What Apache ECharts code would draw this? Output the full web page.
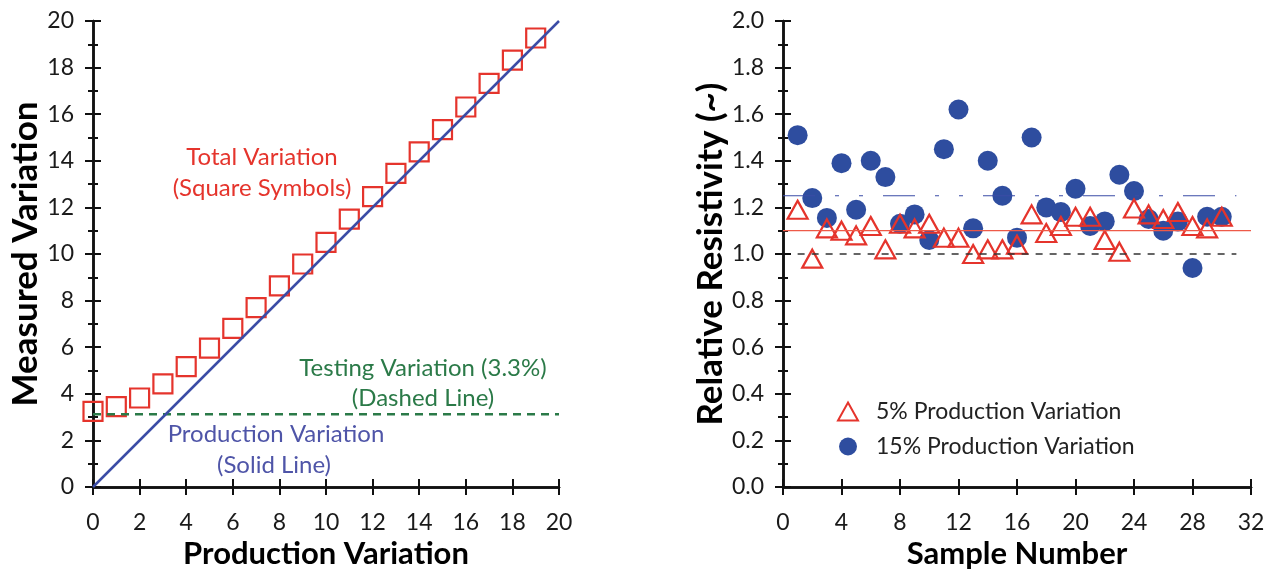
<!DOCTYPE html>
<html>
<head>
<meta charset="utf-8">
<script src="https://cdn.jsdelivr.net/npm/echarts@6/dist/echarts.min.js"></script>
<style>
html,body{margin:0;padding:0;background:#fff;}
#chart{width:1271px;height:577px;}
</style>
</head>
<body>
<div id="chart"></div>
<script>
// ---- Left panel data ----
const totalX = [0,1,2,3,4,5,6,7,8,9,10,11,12,13,14,15,16,17,18,19];
const totalY = [3.25,3.45,3.82,4.43,5.17,5.96,6.81,7.70,8.63,9.57,10.5,11.5,12.46,13.46,14.38,15.34,16.31,17.32,18.32,19.27];
const prodLineX = [0, 20];
const prodLineY = [0, 20];
const testLineX = [0, 20];
const testLineY = [3.12, 3.12];
const leftXTicks = [0,2,4,6,8,10,12,14,16,18,20];
const leftYTicks = [0,2,4,6,8,10,12,14,16,18,20];

// ---- Right panel data ----
const samples = [1,2,3,4,5,6,7,8,9,10,11,12,13,14,15,16,17,18,19,20,21,22,23,24,25,26,27,28,29,30];
const var5 = [1.19,0.98,1.11,1.10,1.08,1.12,1.02,1.13,1.11,1.13,1.07,1.07,1.00,1.02,1.02,1.04,1.17,1.09,1.12,1.16,1.16,1.06,1.01,1.195,1.17,1.15,1.18,1.12,1.11,1.16];
const var15 = [1.51,1.24,1.155,1.39,1.19,1.40,1.33,1.13,1.17,1.06,1.45,1.62,1.11,1.40,1.25,1.07,1.50,1.20,1.18,1.28,1.12,1.14,1.34,1.27,1.15,1.10,1.14,0.94,1.16,1.16];
const nominalX = [1, 31];
const nominalY = [1.0, 1.0];
const mean5X = [0, 32];
const mean5Y = [1.10, 1.10];
const mean15X = [0, 31];
const mean15Y = [1.25, 1.25];
const rightXTicks = [0,4,8,12,16,20,24,28,32];
const rightYTicks = ['0.0','0.2','0.4','0.6','0.8','1.0','1.2','1.4','1.6','1.8','2.0'];

const FONT = 'Lato';
const RED = '#e5342c';
const BLUE = '#2e4d9f';
const LINEBLUE = '#3b4ca6';
const GREEN = '#2b7a48';

const pairs = (xs, ys) => xs.map((x, i) => [x, ys[i]]);

const axisLineStyle = {show: true, lineStyle: {color: '#111', width: 2.5}};
const tickStyle = {show: true, inside: false, length: 8, lineStyle: {color: '#111', width: 2}};
const minorStyle = {show: true, splitNumber: 2, length: 5, lineStyle: {color: '#111', width: 2}};
const labelStyle = {color: '#1a1a1a', fontSize: 23, fontFamily: FONT};

function xAx(grid, min, max, interval, ticks, name, showLabel, pos) {
  return {
    type: 'value', gridIndex: grid, min: min, max: max, interval: interval,
    position: pos,
    axisLine: axisLineStyle, axisTick: tickStyle,
    splitLine: {show: false},
    axisLabel: showLabel ? Object.assign({margin: 24, formatter: v => String(ticks[Math.round((v - min) / interval)])}, labelStyle) : {show: false},
    name: name, nameLocation: 'middle', nameGap: 51,
    nameTextStyle: {color: '#000', fontSize: 31, fontWeight: 'bold', fontFamily: FONT}
  };
}
function yAx(grid, min, max, interval, ticks, name, showLabel, pos, gap) {
  return {
    type: 'value', gridIndex: grid, min: min, max: max, interval: interval,
    position: pos,
    axisLine: axisLineStyle, axisTick: tickStyle, minorTick: minorStyle,
    splitLine: {show: false}, minorSplitLine: {show: false},
    axisLabel: showLabel ? Object.assign({margin: 19, formatter: v => String(ticks[Math.round((v - min) / interval)])}, labelStyle) : {show: false},
    name: name, nameLocation: 'middle', nameGap: gap || 0, nameRotate: 90,
    nameTextStyle: {color: '#000', fontSize: 35, fontWeight: 'bold', fontFamily: FONT}
  };
}

const chart = echarts.init(document.getElementById('chart'), null, {renderer: 'canvas'});
chart.setOption({
  backgroundColor: '#ffffff',
  animation: false,
  textStyle: {fontFamily: FONT},
  grid: [
    {left: 93, right: 712, top: 21, bottom: 90, containLabel: false},
    {left: 783, right: 20, top: 21, bottom: 90, containLabel: false}
  ],
  xAxis: [
    xAx(0, 0, 20, 2, leftXTicks, 'Production Variation', true, 'bottom'),
    xAx(0, 0, 20, 2, leftXTicks, '', false, 'top'),
    xAx(1, 0, 32, 4, rightXTicks, 'Sample Number', true, 'bottom'),
    xAx(1, 0, 32, 4, rightXTicks, '', false, 'top')
  ],
  yAxis: [
    yAx(0, 0, 20, 2, leftYTicks, 'Measured Variation', true, 'left', 44),
    yAx(0, 0, 20, 2, leftYTicks, '', false, 'right'),
    yAx(1, 0, 2, 0.2, rightYTicks, 'Relative Resistivity (~)', true, 'left', 49),
    yAx(1, 0, 2, 0.2, rightYTicks, '', false, 'right')
  ],
  legend: {
    show: true,
    orient: 'vertical',
    left: 832, top: 395,
    itemGap: 12,
    itemWidth: 20, itemHeight: 18,
    textStyle: {fontSize: 23, color: '#222', fontFamily: FONT, padding: [0, 0, 0, 13]},
    data: ['5% Production Variation', '15% Production Variation'],
    selectedMode: false
  },
  series: [
    {
      name: 'Testing Variation', type: 'line', xAxisIndex: 0, yAxisIndex: 0,
      data: pairs(testLineX, testLineY), symbol: 'none', silent: true,
      lineStyle: {color: GREEN, width: 2.5, type: [8, 6], opacity: 1}
    },
    {
      name: 'Production Variation', type: 'line', xAxisIndex: 0, yAxisIndex: 0,
      data: pairs(prodLineX, prodLineY), symbol: 'none', silent: true,
      lineStyle: {color: LINEBLUE, width: 2.5, opacity: 1}
    },
    {
      name: 'Total Variation', type: 'scatter', xAxisIndex: 0, yAxisIndex: 0,
      data: pairs(totalX, totalY), symbol: 'rect', symbolSize: 19,
      itemStyle: {color: 'rgba(0,0,0,0)', borderColor: RED, borderWidth: 2.2, opacity: 1},
      emphasis: {disabled: true}
    },
    {
      name: 'Nominal', type: 'line', xAxisIndex: 2, yAxisIndex: 2,
      data: pairs(nominalX, nominalY), symbol: 'none', silent: true,
      lineStyle: {color: '#333', width: 1.5, type: [7, 7], opacity: 1}
    },
    {
      name: 'Mean 5%', type: 'line', xAxisIndex: 2, yAxisIndex: 2,
      data: pairs(mean5X, mean5Y), symbol: 'none', silent: true,
      lineStyle: {color: '#ee5a48', width: 1.3, opacity: 1}
    },
    {
      name: 'Mean 15%', type: 'line', xAxisIndex: 2, yAxisIndex: 2,
      data: pairs(mean15X, mean15Y), symbol: 'none', silent: true,
      lineStyle: {color: LINEBLUE, width: 1.2, type: [32, 20, 4, 20, 4, 20], opacity: 1}
    },
    {
      name: '15% Production Variation', type: 'scatter', xAxisIndex: 2, yAxisIndex: 2,
      data: pairs(samples, var15), symbol: 'circle', symbolSize: 20,
      itemStyle: {color: BLUE, opacity: 1},
      emphasis: {disabled: true}
    },
    {
      name: '5% Production Variation', type: 'scatter', xAxisIndex: 2, yAxisIndex: 2,
      data: pairs(samples, var5), symbol: 'triangle', symbolSize: [20, 18],
      itemStyle: {color: 'rgba(0,0,0,0)', borderColor: RED, borderWidth: 2.2, opacity: 1},
      emphasis: {disabled: true}
    }
  ],
  graphic: [
    {type: 'text', x: 262, y: 157, style: {text: 'Total Variation', fill: RED, font: '24px ' + FONT, textAlign: 'center', textVerticalAlign: 'middle'}},
    {type: 'text', x: 262, y: 188, style: {text: '(Square Symbols)', fill: RED, font: '24px ' + FONT, textAlign: 'center', textVerticalAlign: 'middle'}},
    {type: 'text', x: 423, y: 368, style: {text: 'Testing Variation (3.3%)', fill: GREEN, font: '24px ' + FONT, textAlign: 'center', textVerticalAlign: 'middle'}},
    {type: 'text', x: 423, y: 398, style: {text: '(Dashed Line)', fill: GREEN, font: '24px ' + FONT, textAlign: 'center', textVerticalAlign: 'middle'}},
    {type: 'text', x: 276, y: 434, style: {text: 'Production Variation', fill: '#4f55a8', font: '24px ' + FONT, textAlign: 'center', textVerticalAlign: 'middle'}},
    {type: 'text', x: 274, y: 465, style: {text: '(Solid Line)', fill: '#4f55a8', font: '24px ' + FONT, textAlign: 'center', textVerticalAlign: 'middle'}}
  ]
});
</script>
</body>
</html>
